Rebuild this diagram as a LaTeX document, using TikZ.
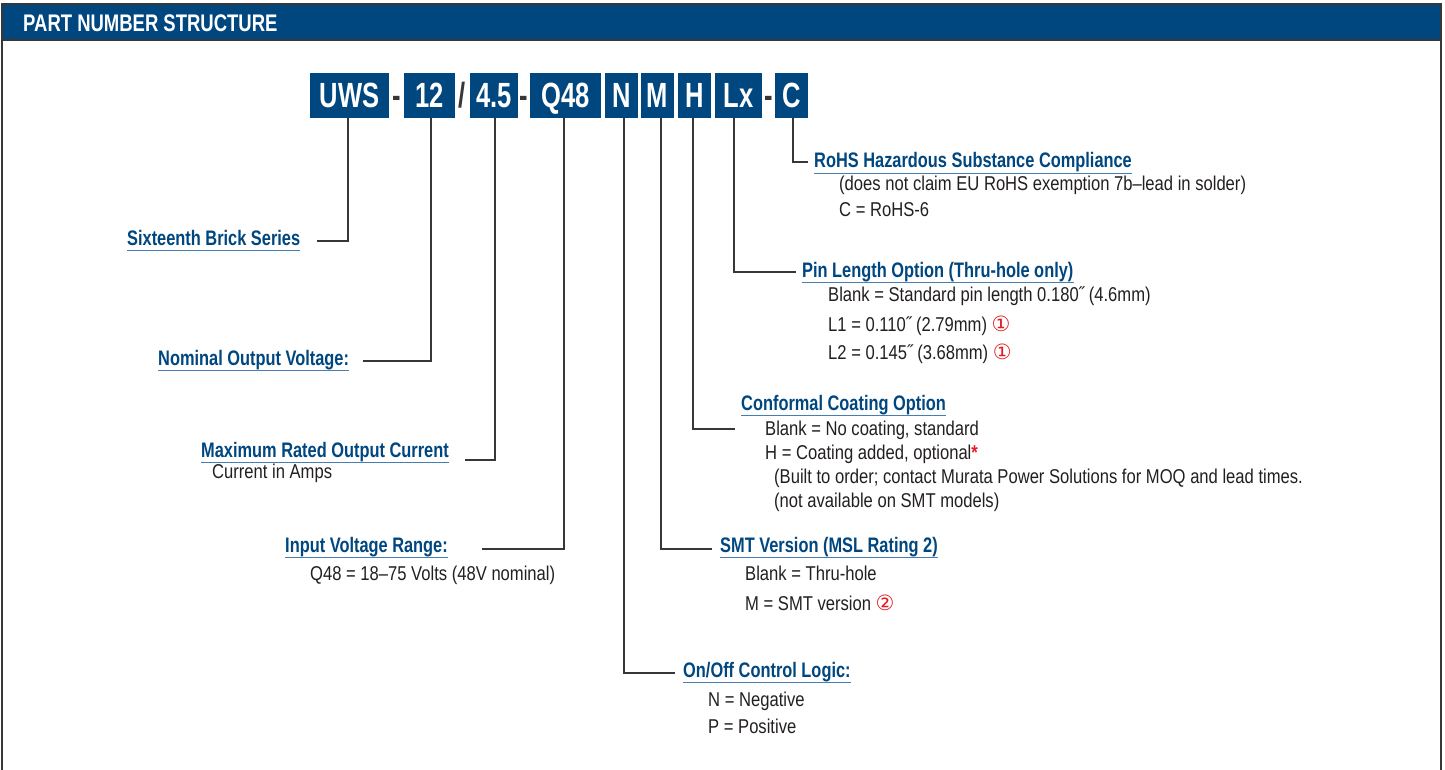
\documentclass[tikz,border=0pt]{standalone}
\usepackage{fontspec}
\setmainfont{Liberation Sans}[FakeStretch=0.83]
\newfontfamily\lbfont{Liberation Sans}[FakeStretch=0.78]
\newfontfamily\hdfont{Liberation Sans}[FakeStretch=0.77]
\newfontfamily\boxfont{Liberation Sans}[FakeStretch=0.73]
\newfontfamily\symfont{DejaVu Sans}
\definecolor{mblue}{RGB}{0,70,127}
\definecolor{ulblue}{RGB}{70,125,180}
\definecolor{btext}{RGB}{35,31,32}
\definecolor{lgrey}{RGB}{55,55,55}
\definecolor{mred}{RGB}{227,27,35}
\newcommand{\circnum}[1]{{\symfont\fontsize{21}{23}\selectfont\textcolor{mred}{#1}}}
\tikzset{
  pbox/.style={fill=mblue, text=white, inner sep=0, minimum height=45pt,
    font=\boxfont\bfseries\fontsize{35}{38}\selectfont, text height=25pt, text depth=0pt},
  sepch/.style={anchor=base, inner sep=0, text=lgrey, font=\boxfont\bfseries\fontsize{35}{38}\selectfont},
  lbl/.style={anchor=base west, inner sep=0, text=mblue, font=\lbfont\bfseries\fontsize{21}{23}\selectfont},
  body/.style={anchor=base west, inner sep=0, text=btext, font=\fontsize{20}{22}\selectfont},
  uline/.style={draw=ulblue, line width=1.2pt},
  conn/.style={draw=lgrey, line width=1.4pt},
  frame/.style={draw=lgrey, line width=2pt}
}
\begin{document}
\begin{tikzpicture}[x=1pt,y=-1pt]
\useasboundingbox (0,0) rectangle (1445,770);
% frame and header
\fill[mblue] (1.5,5) rectangle (1440.5,40);
\draw[frame] (1.5,770) -- (1.5,4.5) -- (1440.5,4.5) -- (1440.5,770);
\draw[draw=lgrey, line width=1.2pt] (1.5,40) -- (1440.5,40);
\node[anchor=base west, inner sep=0, text=white, font=\hdfont\bfseries\fontsize{24}{26}\selectfont] (title) at (23,32) {PART NUMBER STRUCTURE};
% part number boxes
\node[pbox, minimum width=79pt] (uws) at (349.5,95.5) {UWS};
\node[sepch] (s1) at (396.5,108) {-};
\node[pbox, minimum width=51pt] (v12) at (429.5,95.5) {12};
\node[sepch] (s2) at (462.5,108) {/};
\node[pbox, minimum width=48pt] (i45) at (494,95.5) {4.5};
\node[sepch] (s3) at (524,108) {-};
\node[pbox, minimum width=71pt] (q48) at (565.5,95.5) {Q48};
\node[pbox, minimum width=33pt] (bn) at (621.5,95.5) {N};
\node[pbox, minimum width=33pt] (bm) at (657.5,95.5) {M};
\node[pbox, minimum width=33pt] (bh) at (694.5,95.5) {H};
\node[pbox, minimum width=47pt] (blx) at (738.5,95.5) {Lx};
\node[sepch] (s4) at (768.5,108) {-};
\node[pbox, minimum width=33pt] (bc) at (791.5,95.5) {C};
% elbow ends
\coordinate (e1) at (317,241);
\coordinate (e2) at (363,361);
\coordinate (e3) at (465,460);
\coordinate (e4) at (482,549);
\coordinate (e5) at (675,673);
\coordinate (e6) at (712,549);
\coordinate (e7) at (735,429);
\coordinate (e8) at (796,272);
\coordinate (e9) at (808,162);
\draw[conn] ([xshift=-1.5pt]uws.south) |- (e1);
\draw[conn] ([xshift=1.5pt]v12.south) |- (e2);
\draw[conn] ([xshift=1pt]i45.south) |- (e3);
\draw[conn] ([xshift=-1.5pt]q48.south) |- (e4);
\draw[conn] ([xshift=2.5pt]bn.south) |- (e5);
\draw[conn] ([xshift=3.5pt]bm.south) |- (e6);
\draw[conn] ([xshift=-1.5pt]bh.south) |- (e7);
\draw[conn] ([xshift=-4.5pt]blx.south) |- (e8);
\draw[conn] ([xshift=1.5pt]bc.south) |- (e9);
% labels (left)
\node[lbl] (l1) at (127,245) {Sixteenth Brick Series};
\node[lbl] (l2) at (158,365) {Nominal Output Voltage:};
\node[lbl] (l3) at (201,457) {Maximum Rated Output Current};
\node[body] (t3a) at (212,478) {Current in Amps};
\node[lbl] (l4) at (285,552) {Input Voltage Range:};
\node[body] (t4a) at (310,580) {Q48 = 18–75 Volts (48V nominal)};
% labels (right)
\node[lbl] (l5) at (683,677) {On/Off Control Logic:};
\node[body] (t5a) at (708,706) {N = Negative};
\node[body] (t5b) at (708,733) {P = Positive};
\node[lbl] (l6) at (720,552) {SMT Version (MSL Rating 2)};
\node[body] (t6a) at (745,580) {Blank = Thru-hole};
\node[body] (t6b) at (745,610) {M = SMT version \circnum{②}};
\node[lbl] (l7) at (741,410) {Conformal Coating Option};
\node[body] (t7a) at (765,435) {Blank = No coating, standard};
\node[body] (t7b) at (765,459) {H = Coating added, optional\textcolor{mred}{\textbf{*}}};
\node[body] (t7c) at (774,483) {(Built to order; contact Murata Power Solutions for MOQ and lead times.};
\node[body] (t7d) at (774,507) {(not available on SMT models)};
\node[lbl] (l8) at (802,277) {Pin Length Option (Thru-hole only)};
\node[body] (t8a) at (828,301) {Blank = Standard pin length 0.180˝ (4.6mm)};
\node[body] (t8b) at (828,331) {L1 = 0.110˝ (2.79mm) \circnum{①}};
\node[body] (t8c) at (828,359) {L2 = 0.145˝ (3.68mm) \circnum{①}};
\node[lbl] (l9) at (814,168) {RoHS Hazardous Substance Compliance};
\node[body] (t9a) at (839,191) {(does not claim EU RoHS exemption 7b–lead in solder)};
\node[body] (t9b) at (839,216) {C = RoHS-6};
% underlines
\foreach \n in {l1,l2,l3,l4,l5,l6,l7,l8,l9}{
  \draw[uline] ([yshift=-5.5pt]\n.base west) -- ([yshift=-5.5pt]\n.base east);
}
\end{tikzpicture}
\end{document}
